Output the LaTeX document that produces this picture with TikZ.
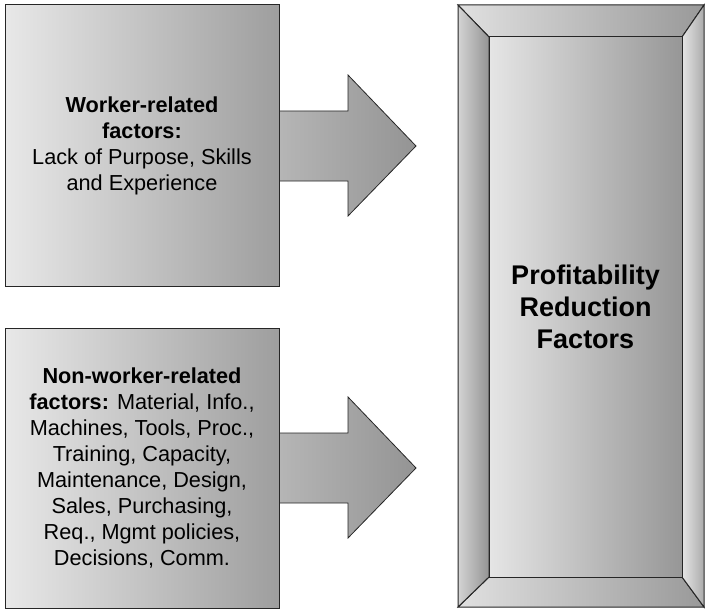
\documentclass[tikz,border=0pt]{standalone}
\usepackage{fontspec}
\setmainfont{Liberation Sans}

\tikzset{
  factorbox/.style={draw=black!85, line width=1pt, left color=black!9, right color=black!38,
    align=center, inner sep=0pt, minimum width=274pt, font=\fontsize{21.7}{26}\selectfont},
  blockarrow/.style={draw=black!85, line width=0.8pt, left color=black!28, right color=black!42},
  bevel/.style={draw=black!85, line width=1pt, left color=black!12, right color=black!40},
}

\begin{document}
\begin{tikzpicture}[x=1pt,y=-1pt]
        \useasboundingbox (0,0) rectangle (705,610);
        % arrows behind the boxes
        \shade[blockarrow] (270,111) -- (348,111) -- (348,75) -- (416,146) -- (348,216) -- (348,181) -- (270,181) -- cycle;
        \shade[blockarrow] (270,433) -- (348,433) -- (348,397) -- (416,468) -- (348,538) -- (348,503) -- (270,503) -- cycle;
        % factor boxes
        \node[factorbox, minimum height=281pt] (worker) at (142,145.5)
          {\textbf{Worker-related}\\ \textbf{factors:}\\ Lack of Purpose, Skills\\ and Experience};
        \node[factorbox, minimum height=280pt] (nonworker) at (142,468)
          {\textbf{Non-worker-related}\\ \textbf{factors:} Material, Info.,\\ Machines, Tools, Proc.,\\
           Training, Capacity,\\ Maintenance, Design,\\ Sales, Purchasing,\\ Req., Mgmt policies,\\ Decisions, Comm.};
        % bevelled frame
        \shade[bevel] (458,5) -- (704,5) -- (682,37) -- (489,37) -- cycle;
        \shade[bevel] (458,607) -- (489,577) -- (682,577) -- (704,607) -- cycle;
        \shade[bevel, left color=black!17, right color=black!42] (458,5) -- (489,37) -- (489,577) -- (458,607) -- cycle;
        \shade[bevel, left color=black!10, right color=black!33] (704,5) -- (704,607) -- (682,577) -- (682,37) -- cycle;
        \shade[bevel, left color=black!10, right color=black!41] (489,37) rectangle (682,577);
        \node[align=center, font=\fontsize{27}{31.7}\selectfont\bfseries] (profit) at (585.5,307)
          {Profitability\\ Reduction\\ Factors};
    \end{tikzpicture}
\end{document}
